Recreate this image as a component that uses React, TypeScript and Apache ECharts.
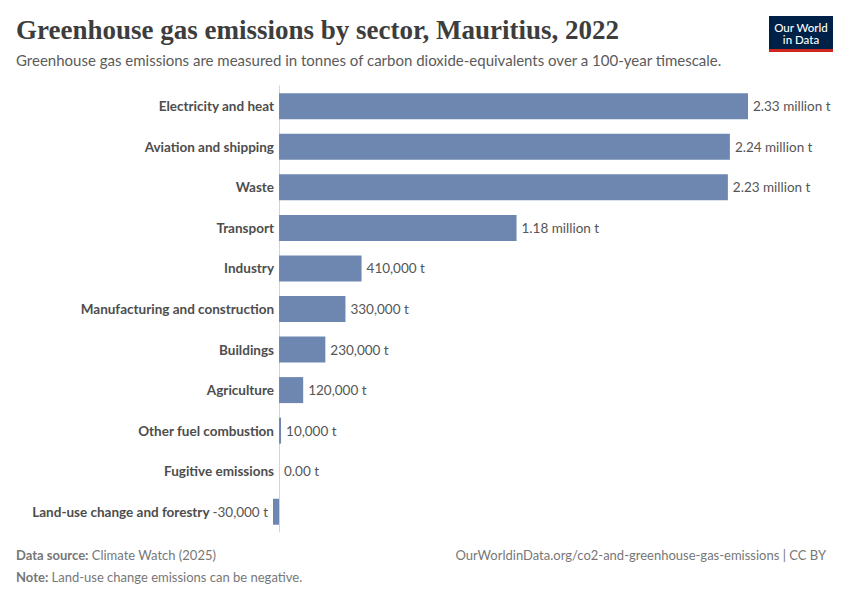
import React, { useEffect, useRef } from "react";
import * as echarts from "echarts";

const categories = [
  "Electricity and heat",
  "Aviation and shipping",
  "Waste",
  "Transport",
  "Industry",
  "Manufacturing and construction",
  "Buildings",
  "Agriculture",
  "Other fuel combustion",
  "Fugitive emissions",
  "Land-use change and forestry",
];
const values = [2330000, 2240000, 2230000, 1180000, 410000, 330000, 230000, 120000, 10000, 0, -30000];

const titleText = "Greenhouse gas emissions by sector, Mauritius, 2022";
const subtitleText =
  "Greenhouse gas emissions are measured in tonnes of carbon dioxide-equivalents over a 100-year timescale.";
const sourceLabel = "Data source:";
const sourceText = " Climate Watch (2025)";
const noteLabel = "Note:";
const noteText = " Land-use change emissions can be negative.";
const urlText = "OurWorldinData.org/co2-and-greenhouse-gas-emissions | CC BY";

function fmt(v: number): string {
  if (v === 0) return "0.00 t";
  if (Math.abs(v) >= 1e6) return (v / 1e6).toFixed(2) + " million t";
  return v.toLocaleString("en-US") + " t";
}

export default function App() {
  const ref = useRef<HTMLDivElement>(null);
  useEffect(() => {
    if (!ref.current) return;
    const chart = echarts.init(ref.current, null, { renderer: "svg" });
    const font = "Lato, 'Noto Sans', sans-serif";
    chart.setOption({
      animation: false,
      backgroundColor: "#ffffff",
      grid: { left: 273, right: 102, top: 86, height: 446, containLabel: false },
      xAxis: {
        type: "value",
        min: -30000,
        max: 2330000,
        show: true,
        axisLine: { show: false },
        axisTick: { show: false },
        axisLabel: { show: false },
        splitLine: { show: false },
      },
      yAxis: {
        type: "category",
        inverse: true,
        data: categories,
        axisLine: { show: true, onZero: true, lineStyle: { color: "#d4d4d4", width: 1 } },
        axisTick: { show: false },
        axisLabel: {
          fontFamily: font,
          fontSize: 13.5,
          fontWeight: "bold",
          color: "#4d4d4d",
          margin: -1,
          formatter: (val: string, idx: number) =>
            values[idx] < 0 ? val + " {neg|" + fmt(values[idx]) + "}" : val,
          rich: {
            neg: {
              fontFamily: font,
              fontSize: 13.5,
              fontWeight: "normal",
              color: "#555555",
              padding: [0, 6, 0, 0],
            },
          },
        },
      },
      series: [
        {
          type: "bar",
          barWidth: 26,
          data: values.map((v) => ({
            value: v,
            label: {
              show: v >= 0,
              position: "right",
              distance: 5,
            },
          })),
          itemStyle: { color: "#6e87b1" },
          label: {
            fontFamily: font,
            fontSize: 13.5,
            color: "#555555",
            formatter: (p: any) => fmt(p.value),
          },
        },
      ],
      graphic: [
        {
          type: "text",
          left: 16,
          top: 16,
          style: {
            text: titleText,
            font: "bold 27px 'Liberation Serif', 'DejaVu Serif', serif",
            fill: "#3d3d3d",
          },
        },
        {
          type: "text",
          left: 16,
          top: 52,
          style: {
            text: subtitleText,
            font: "15px Lato, sans-serif",
            fill: "#5b5b5b",
          },
        },
        {
          type: "rect",
          shape: { x: 769, y: 16, width: 64, height: 34 },
          style: { fill: "#002147" },
        },
        {
          type: "rect",
          shape: { x: 769, y: 49, width: 64, height: 3 },
          style: { fill: "#ce261e" },
        },
        {
          type: "text",
          x: 801,
          y: 21,
          style: {
            text: "Our World\nin Data",
            font: "500 11.5px Lato, sans-serif",
            fill: "#ffffff",
            align: "center",
            lineHeight: 12,
          },
        },
        {
          type: "text",
          left: 16,
          top: 548,
          style: {
            text: "{b|" + sourceLabel + "}" + sourceText,
            font: "13px Lato, sans-serif",
            fill: "#777777",
            rich: { b: { fontWeight: "bold", fontFamily: "Lato", fontSize: 13, fill: "#777777" } },
          },
        },
        {
          type: "text",
          left: 16,
          top: 570,
          style: {
            text: "{b|" + noteLabel + "}" + noteText,
            font: "13px Lato, sans-serif",
            fill: "#777777",
            rich: { b: { fontWeight: "bold", fontFamily: "Lato", fontSize: 13, fill: "#777777" } },
          },
        },
        {
          type: "text",
          right: 24,
          top: 548,
          style: {
            text: urlText,
            font: "13px Lato, sans-serif",
            fill: "#777777",
          },
        },
      ],
    });
    return () => chart.dispose();
  }, []);
  return (
    <div
      ref={ref}
      style={{ position: "fixed", left: 0, top: 0, width: 850, height: 600 }}
    />
  );
}
